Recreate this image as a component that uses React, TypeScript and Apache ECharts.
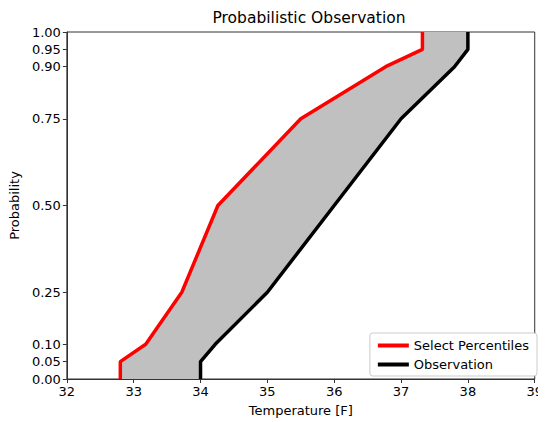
import React, { useEffect, useRef } from "react";
import * as echarts from "echarts";

const probabilities = [0, 0.05, 0.1, 0.25, 0.5, 0.75, 0.9, 0.95, 1.0];
const selectPercentiles = [32.8, 32.8, 33.18, 33.72, 34.26, 35.5, 36.77, 37.32, 37.32];
const observation = [34.0, 34.0, 34.22, 35.0, 36.0, 37.0, 37.8, 38.0, 38.0];
const yTicks = [0, 0.05, 0.1, 0.25, 0.5, 0.75, 0.9, 0.95, 1.0];

const FONT = "DejaVu Sans";

export default function App() {
  const ref = useRef<HTMLDivElement>(null);
  useEffect(() => {
    if (!ref.current) return;
    const chart = echarts.init(ref.current, undefined, { renderer: "svg" });
    const redPts = probabilities.map((p, i) => [selectPercentiles[i], p]);
    const blackPts = probabilities.map((p, i) => [observation[i], p]);
    chart.setOption({
      animation: false,
      backgroundColor: "#fff",
      textStyle: { fontFamily: FONT },
      title: {
        text: "Probabilistic Observation",
        left: 304,
        top: 5,
        textAlign: "center",
        textStyle: { fontFamily: FONT, fontSize: 15.5, fontWeight: "normal", color: "#000" },
      },
      grid: {
        left: 66,
        right: 6,
        top: 32,
        bottom: 42,
        show: true,
        borderColor: "#333",
        borderWidth: 1,
        backgroundColor: "transparent",
      },
      legend: {
        orient: "vertical",
        right: 9,
        bottom: 46,
        backgroundColor: "#fff",
        borderColor: "#ccc",
        borderWidth: 1,
        borderRadius: 3,
        padding: [6, 8, 5, 8],
        itemGap: 6,
        itemWidth: 31,
        itemHeight: 4,
        icon: "rect",
        textStyle: { fontFamily: FONT, fontSize: 13, color: "#000" },
        data: ["Select Percentiles", "Observation"],
      },
      xAxis: {
        type: "value",
        min: 32,
        max: 39,
        interval: 1,
        name: "Temperature [F]",
        nameLocation: "middle",
        nameGap: 25,
        nameTextStyle: { fontFamily: FONT, fontSize: 13, color: "#000" },
        splitLine: { show: false },
        axisLine: { show: true, lineStyle: { color: "#333", width: 1 } },
        axisTick: { show: true, inside: false, length: 4, lineStyle: { color: "#333" } },
        axisLabel: { fontFamily: FONT, fontSize: 13, color: "#000", margin: 6 },
      },
      yAxis: {
        type: "value",
        min: 0,
        max: 1,
        name: "Probability",
        nameLocation: "middle",
        nameGap: 44,
        nameTextStyle: { fontFamily: FONT, fontSize: 13, color: "#000" },
        splitLine: { show: false },
        axisLine: { show: true, lineStyle: { color: "#333", width: 1 } },
        axisTick: { show: true, inside: false, length: 4, customValues: yTicks, lineStyle: { color: "#333" } },
        axisLabel: {
          fontFamily: FONT,
          fontSize: 13,
          color: "#000",
          margin: 6,
          customValues: yTicks,
          formatter: (v: number) => v.toFixed(2),
        },
      },
      series: [
        {
          type: "custom",
          name: "band",
          silent: true,
          z: 1,
          data: [[0]],
          renderItem: (params: any, api: any) => {
            const pts: number[][] = [];
            redPts.forEach((p) => pts.push(api.coord(p)));
            for (let i = blackPts.length - 1; i >= 0; i--) pts.push(api.coord(blackPts[i]));
            return {
              type: "polygon",
              shape: { points: pts },
              style: { fill: "#c0c0c0", stroke: "none" },
            };
          },
        },
        {
          type: "line",
          name: "Select Percentiles",
          data: redPts,
          showSymbol: false,
          symbol: "none",
          z: 3,
          lineStyle: { color: "#ff0000", width: 3.5 },
          itemStyle: { color: "#ff0000" },
        },
        {
          type: "line",
          name: "Observation",
          data: blackPts,
          showSymbol: false,
          symbol: "none",
          z: 3,
          lineStyle: { color: "#000000", width: 3.5 },
          itemStyle: { color: "#000000" },
        },
      ],
    });
    return () => chart.dispose();
  }, []);
  return <div ref={ref} style={{ width: 546, height: 422, marginLeft: -8, marginTop: -8 }} />;
}
